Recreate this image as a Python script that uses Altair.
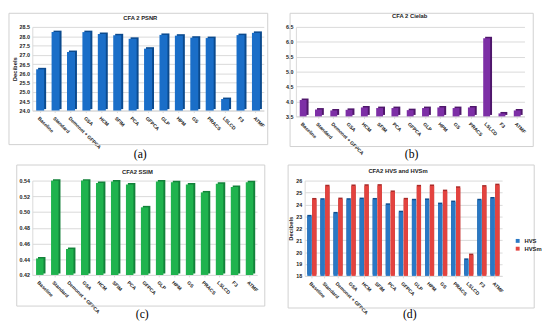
import altair as alt
import pandas as pd

methods = ["Baseline", "Standard", "Demonet + GFPCA", "GSA", "HCM", "SFIM", "PCA",
           "GFPCA", "GLP", "HPM", "GS", "PRACS", "LSLCD", "F3", "ATMF"]
psnr = [26.22, 28.22, 27.15, 28.22, 28.12, 28.05, 27.86, 27.33, 28.07, 28.03, 27.92, 27.90, 24.62, 28.06, 28.18]
cielab = [4.05, 3.73, 3.70, 3.72, 3.80, 3.78, 3.78, 3.71, 3.78, 3.80, 3.78, 3.80, 6.12, 3.60, 3.70]
ssim = [0.441, 0.540, 0.453, 0.540, 0.537, 0.539, 0.535, 0.506, 0.539, 0.538, 0.535, 0.525, 0.536, 0.532, 0.538]
hvs = [23.00, 24.40, 23.25, 24.40, 24.45, 24.42, 23.97, 23.35, 24.35, 24.38, 24.03, 24.20, 19.35, 24.35, 24.50]
hvsm = [24.42, 25.52, 24.45, 25.55, 25.57, 25.58, 25.05, 24.43, 25.52, 25.55, 25.12, 25.40, 19.75, 25.50, 25.62]
series = ["HVS", "HVSm"]

ticks_a = [24.0, 24.5, 25.0, 25.5, 26.0, 26.5, 27.0, 27.5, 28.0, 28.5]
ticks_b = [3.5, 4.0, 4.5, 5.0, 5.5, 6.0, 6.5]
ticks_c = [0.42, 0.44, 0.46, 0.48, 0.50, 0.52, 0.54]
ticks_d = [18, 19, 20, 21, 22, 23, 24, 25, 26]

FONT = "Liberation Sans"
SERIF = "Liberation Serif"
GRID = "#d9d9d9"


def xaxis():
    return alt.Axis(labelAngle=45, labelAlign="left", labelBaseline="top", labelFontSize=5,
                    labelFontWeight="bold", labelColor="#222", labelPadding=3, labelLimit=200,
                    domainColor=GRID, tickColor=GRID, tickSize=2, title=None)


def yaxis(values, fmt, title):
    kw = dict(values=values, format=fmt, labelFontSize=5.5, labelFontWeight="bold", labelColor="#222",
              labelPadding=3, ticks=False, domainColor=GRID, gridColor=GRID, grid=True)
    if title:
        kw.update(title=title, titleFontSize=6, titleFontWeight="bold", titleColor="#222", titlePadding=2)
    else:
        kw.update(title=None)
    return alt.Axis(**kw)


def deco(title, caption, tx, ty, cx, cy, fx0, fx1, fy0, fy1):
    one = pd.DataFrame({"t": [title], "c": [caption]})
    base = alt.Chart(one)
    frame = base.mark_rect(fillOpacity=0, stroke="#d0d0d0", strokeWidth=1).encode(
        x=alt.value(fx0), x2=alt.value(fx1), y=alt.value(fy0), y2=alt.value(fy1))
    ttl = base.mark_text(font=FONT, fontSize=6, fontWeight="bold", color="#222").encode(
        x=alt.value(tx), y=alt.value(ty), text="t:N")
    cap = base.mark_text(font=SERIF, fontSize=12, color="#000").encode(
        x=alt.value(cx), y=alt.value(cy), text="c:N")
    return [frame, ttl, cap]


def simple_panel(values, ticks, fmt, ytitle, dom, main, dark, w, h, pin, title, caption, pos):
    df = pd.DataFrame({"method": methods, "value": values})
    x = alt.X("method:N", sort=methods, scale=alt.Scale(paddingInner=pin, paddingOuter=0.25), axis=xaxis())
    y = alt.Y("value:Q", scale=alt.Scale(domain=dom, zero=False, nice=False, clamp=True),
              axis=yaxis(ticks, fmt, ytitle))
    base = alt.Chart(df)
    shadow = base.mark_bar(color=dark, xOffset=2, yOffset=-1.5).encode(x=x, y=y)
    front = base.mark_bar(color=main).encode(x=x, y=y)
    return alt.layer(*deco(title, caption, *pos), shadow, front).properties(width=w, height=h)


pa = simple_panel(psnr, ticks_a, ".1f", "Decibels", [24, 28.5], "#1a6ec8", "#0b4a8e", 238, 86, 0.48,
                  "CFA 2 PSNR", "(a)", (111, -9, 111, 131, -24, 242, -14, 121))
pb = simple_panel(cielab, ticks_b, ".1f", None, [3.5, 6.5], "#7d2fa6", "#4f176b", 235, 92, 0.55,
                  "CFA 2 Cielab", "(b)", (117, -11, 119, 131, -6, 244, -14, 123))
pc = simple_panel(ssim, ticks_c, ".2f", None, [0.42, 0.54], "#1fb34e", "#13823a", 231, 97, 0.5,
                  "CFA2 SSIM", "(c)", (108, -9, 113, 137, -16, 239, -16, 129))

# panel d grouped
rows = []
for m, a, b in zip(methods, hvs, hvsm):
    rows.append({"method": m, "series": "HVS", "value": a})
    rows.append({"method": m, "series": "HVSm", "value": b})
df_d = pd.DataFrame(rows)
xd = alt.X("method:N", sort=methods, scale=alt.Scale(paddingInner=0.3, paddingOuter=0.2), axis=xaxis())
yd = alt.Y("value:Q", scale=alt.Scale(domain=[18, 26], zero=False, nice=False, clamp=True),
           axis=yaxis(ticks_d, "d", "Decibels"))
xo = alt.XOffset("series:N", sort=series, scale=alt.Scale(paddingInner=0.12))
based = alt.Chart(df_d)
shadow_d = based.mark_bar(xOffset=1.5, yOffset=-1.5).encode(
    x=xd, y=yd, xOffset=xo,
    color=alt.Color("series:N", sort=series, scale=alt.Scale(domain=series, range=["#0f4f8f", "#a82a28"]), legend=None))
front_d = based.mark_bar().encode(
    x=xd, y=yd, xOffset=xo,
    color=alt.Color("series:N", sort=series, scale=alt.Scale(domain=series, range=["#2a78c4", "#e3433f"]),
                    legend=alt.Legend(orient="none", legendX=216, legendY=59, title=None, symbolType="square",
                                      symbolSize=16, labelFontSize=6, labelFont=FONT, labelFontWeight="bold",
                                      labelColor="#222", rowPadding=2, symbolStrokeWidth=0)))
pd_ = alt.layer(*deco("CFA2 HVS and HVSm", "(d)", 96, -10, 108, 137, -17, 236, -16, 131),
                shadow_d, front_d).resolve_scale(color="independent").properties(width=203, height=98)

row1 = alt.hconcat(pa, pb, spacing=33, bounds="flush")
row2 = alt.hconcat(pc, pd_, spacing=49, bounds="flush")
chart = alt.vconcat(row1, row2, spacing=4).properties(padding=0).configure_view(
    stroke=None).configure_axis(labelFont=FONT, titleFont=FONT)

chart.save("out.html", embed_options={"renderer": "svg", "actions": False})
